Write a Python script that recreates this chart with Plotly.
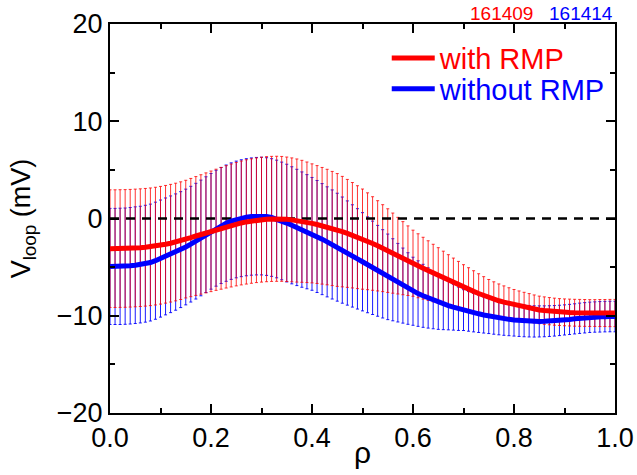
import plotly.graph_objects as go

# rho grid (101 profile points, 0.00 ... 1.00)
rho = [i / 100 for i in range(101)]

# with RMP (shot 161409): loop voltage profile (mV) and its error
red_mean = [
    -3.10, -3.10, -3.09, -3.08, -3.06, -3.03,
    -3.00, -2.96, -2.91, -2.84, -2.75,
    -2.65, -2.54, -2.42, -2.28, -2.12,
    -1.96, -1.80, -1.64, -1.48, -1.32,
    -1.16, -1.01, -0.86, -0.72, -0.58,
    -0.46, -0.35, -0.26, -0.18, -0.12,
    -0.07, -0.04, -0.03, -0.04, -0.08,
    -0.14, -0.21, -0.29, -0.39, -0.50,
    -0.62, -0.75, -0.88, -1.03, -1.18,
    -1.35, -1.53, -1.72, -1.92, -2.12,
    -2.34, -2.57, -2.81, -3.05, -3.30,
    -3.56, -3.82, -4.08, -4.34, -4.60,
    -4.86, -5.11, -5.36, -5.61, -5.85,
    -6.10, -6.35, -6.59, -6.82, -7.05,
    -7.27, -7.49, -7.71, -7.92, -8.12,
    -8.30, -8.46, -8.60, -8.73, -8.85,
    -8.97, -9.08, -9.19, -9.30, -9.40,
    -9.47, -9.53, -9.58, -9.62, -9.65,
    -9.67, -9.69, -9.70, -9.71, -9.72,
    -9.72, -9.72, -9.72, -9.72, -9.72,
]
red_err = [
    6.05, 6.05, 6.05, 6.05, 6.05, 6.05,
    6.05, 6.05, 6.05, 6.05, 6.05,
    6.05, 6.05, 6.05, 6.05, 6.05,
    6.08, 6.11, 6.14, 6.17, 6.20,
    6.23, 6.26, 6.29, 6.32, 6.35,
    6.37, 6.39, 6.40, 6.41, 6.42,
    6.43, 6.43, 6.43, 6.42, 6.40,
    6.37, 6.33, 6.27, 6.20, 6.12,
    6.06, 6.00, 5.94, 5.87, 5.80,
    5.68, 5.55, 5.42, 5.29, 5.15,
    4.98, 4.81, 4.64, 4.47, 4.30,
    4.12, 3.94, 3.76, 3.58, 3.40,
    3.29, 3.18, 3.07, 2.96, 2.85,
    2.74, 2.63, 2.52, 2.41, 2.30,
    2.21, 2.12, 2.03, 1.94, 1.85,
    1.79, 1.73, 1.67, 1.61, 1.55,
    1.52, 1.49, 1.47, 1.44, 1.42,
    1.41, 1.40, 1.39, 1.38, 1.38,
    1.38, 1.38, 1.38, 1.38, 1.38,
    1.38, 1.39, 1.39, 1.40, 1.40,
]

# without RMP (shot 161414)
blue_mean = [
    -4.93, -4.93, -4.92, -4.90, -4.86, -4.80,
    -4.74, -4.65, -4.53, -4.34, -4.12,
    -3.90, -3.68, -3.45, -3.20, -2.93,
    -2.64, -2.33, -2.00, -1.66, -1.32,
    -1.00, -0.72, -0.48, -0.27, -0.10,
    0.03, 0.13, 0.20, 0.24, 0.25,
    0.20, 0.10, -0.05, -0.25, -0.47,
    -0.70, -0.92, -1.14, -1.36, -1.58,
    -1.85, -2.12, -2.40, -2.67, -2.95,
    -3.25, -3.55, -3.85, -4.15, -4.45,
    -4.76, -5.07, -5.38, -5.69, -6.00,
    -6.30, -6.60, -6.90, -7.20, -7.48,
    -7.72, -7.95, -8.17, -8.39, -8.60,
    -8.78, -8.95, -9.12, -9.28, -9.42,
    -9.55, -9.68, -9.80, -9.92, -10.03,
    -10.13, -10.22, -10.30, -10.37, -10.44,
    -10.49, -10.53, -10.56, -10.58, -10.58,
    -10.57, -10.55, -10.52, -10.48, -10.43,
    -10.38, -10.32, -10.26, -10.21, -10.16,
    -10.13, -10.11, -10.09, -10.08, -10.08,
]
blue_err = [
    5.97, 5.97, 5.98, 5.98, 5.99, 6.00,
    6.00, 6.01, 6.01, 6.02, 6.02,
    6.01, 6.00, 5.98, 5.96, 5.95,
    5.95, 5.95, 5.95, 5.95, 5.95,
    5.96, 5.97, 5.98, 5.99, 6.00,
    6.01, 6.02, 6.03, 6.04, 6.05,
    6.05, 6.05, 6.05, 6.05, 6.05,
    6.02, 5.98, 5.93, 5.87, 5.80,
    5.76, 5.71, 5.66, 5.61, 5.55,
    5.46, 5.36, 5.26, 5.16, 5.05,
    4.93, 4.80, 4.67, 4.54, 4.40,
    4.22, 4.04, 3.86, 3.68, 3.50,
    3.37, 3.24, 3.10, 2.95, 2.80,
    2.65, 2.50, 2.36, 2.23, 2.10,
    2.04, 1.98, 1.92, 1.86, 1.80,
    1.77, 1.74, 1.71, 1.68, 1.65,
    1.64, 1.63, 1.62, 1.61, 1.60,
    1.59, 1.58, 1.57, 1.56, 1.55,
    1.55, 1.55, 1.56, 1.56, 1.56,
    1.56, 1.57, 1.57, 1.57, 1.57,
]

x_ticks = [0.0, 0.2, 0.4, 0.6, 0.8, 1.0]
x_ticktext = ["0.0", "0.2", "0.4", "0.6", "0.8", "1.0"]
y_ticks = [-20, -10, 0, 10, 20]
y_ticktext = ["\u221220", "\u221210", "0", "10", "20"]

series_names = ["with RMP", "without RMP"]
shot_labels = ["161409", "161414"]
x_title = "\u03c1"
y_title = "V<sub>loop</sub> (mV)"

RED = "#ff0000"
BLUE = "#0000ff"
FONT = "Liberation Sans, Arial, Helvetica, sans-serif"

fig = go.Figure()

# error bars (blue first, red on top)
fig.add_trace(go.Scatter(
    x=rho, y=blue_mean, mode="markers", marker=dict(size=1, color="rgba(0,0,0,0)"),
    error_y=dict(type="data", array=blue_err, color="rgba(0,0,255,0.9)", thickness=1, width=1.5),
    showlegend=False, hoverinfo="skip"))
fig.add_trace(go.Scatter(
    x=rho, y=red_mean, mode="markers", marker=dict(size=1, color="rgba(0,0,0,0)"),
    error_y=dict(type="data", array=red_err, color="rgba(255,0,0,0.8)", thickness=1, width=1.5),
    showlegend=False, hoverinfo="skip"))

# zero reference line
fig.add_trace(go.Scatter(
    x=[rho[0], rho[-1]], y=[0, 0], mode="lines",
    line=dict(color="black", width=2.5, dash="9px,7px"),
    showlegend=False, hoverinfo="skip"))

# mean profiles
fig.add_trace(go.Scatter(
    x=rho, y=blue_mean, mode="lines", line=dict(color=BLUE, width=5),
    name="<span style='color:#0000ff'>" + series_names[1] + "</span>", legend="legend2"))
fig.add_trace(go.Scatter(
    x=rho, y=red_mean, mode="lines", line=dict(color=RED, width=5),
    name="<span style='color:#ff0000'>" + series_names[0] + "</span>", legend="legend"))

leg_common = dict(xanchor="left", yanchor="top", bgcolor="rgba(0,0,0,0)",
                  font=dict(size=29, family=FONT), itemwidth=43)

fig.update_layout(
    width=637, height=475,
    margin=dict(l=110, r=22, t=24, b=62),
    paper_bgcolor="white", plot_bgcolor="white",
    font=dict(family=FONT, size=27, color="black"),
    showlegend=True,
    legend=dict(x=0.548, y=0.978, **leg_common),
    legend2=dict(x=0.548, y=0.899, **leg_common),
    xaxis=dict(range=[0, 1], tickvals=x_ticks, ticktext=x_ticktext, automargin=False,
               ticks="inside", ticklen=9, tickwidth=2, tickcolor="black",
               showline=True, linewidth=2, linecolor="black", mirror="allticks",
               showgrid=False, zeroline=False,
               minor=dict(dtick=0.1, ticks="inside", ticklen=5, tickwidth=2, tickcolor="black", showgrid=False),
               tickfont=dict(size=27)),
    yaxis=dict(range=[-20, 20], tickvals=y_ticks, ticktext=y_ticktext, automargin=False,
               ticks="inside", ticklen=9, tickwidth=2, tickcolor="black",
               showline=True, linewidth=2, linecolor="black", mirror="allticks",
               showgrid=False, zeroline=False,
               minor=dict(dtick=5, ticks="inside", ticklen=5, tickwidth=2, tickcolor="black", showgrid=False),
               tickfont=dict(size=27),
               title=dict(text=y_title, font=dict(size=27), standoff=18)),
    annotations=[
        dict(text=x_title, x=0.5, y=0.0, xref="paper", yref="paper",
             xanchor="center", yanchor="top", showarrow=False, yshift=-21,
             font=dict(size=30, color="black", family=FONT)),
        dict(text=shot_labels[1], x=1.0, y=1.0, xref="paper", yref="paper",
             xanchor="right", yanchor="bottom", showarrow=False, yshift=-2,
             font=dict(size=19, color=BLUE, family=FONT)),
        dict(text=shot_labels[0], x=0.842, y=1.0, xref="paper", yref="paper",
             xanchor="right", yanchor="bottom", showarrow=False, yshift=-2,
             font=dict(size=19, color=RED, family=FONT)),
    ],
)

fig.write_html("out.html")
